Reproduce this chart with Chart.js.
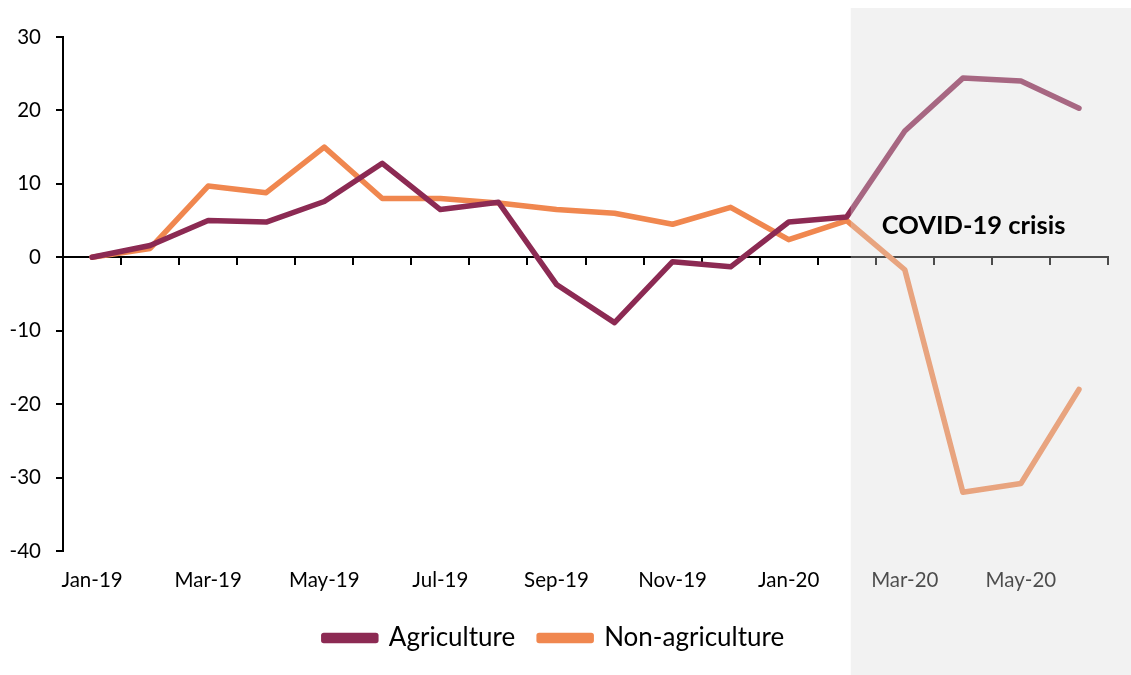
<!DOCTYPE html>
<html>
<head>
<meta charset="utf-8">
<script src="https://cdn.jsdelivr.net/npm/chart.js@4.4.0/dist/chart.umd.min.js"></script>
<style>
  html, body { margin: 0; padding: 0; background: #ffffff; }
  #wrap { width: 1131px; height: 675px; position: relative; }
</style>
</head>
<body>
<div id="wrap"><canvas id="chart" width="1131" height="675"></canvas></div>
<script>
// Chart data
const months = ['Jan-19', 'Feb-19', 'Mar-19', 'Apr-19', 'May-19', 'Jun-19', 'Jul-19', 'Aug-19', 'Sep-19',
    'Oct-19', 'Nov-19', 'Dec-19', 'Jan-20', 'Feb-20', 'Mar-20', 'Apr-20', 'May-20', 'Jun-20'];
const agriculture = [0, 1.6, 5.0, 4.8, 7.6, 12.8, 6.5, 7.5, -3.7, -8.9, -0.6, -1.3, 4.8, 5.5, 17.2, 24.4, 24.0, 20.3];
const nonAgriculture = [0, 1.2, 9.7, 8.8, 15.0, 8.0, 8.0, 7.4, 6.5, 6.0, 4.5, 6.8, 2.4, 5.0, -1.7, -32.0, -30.8, -18.0];
const yTicks = [-40, -30, -20, -10, 0, 10, 20, 30];
const crisisStart = 'Feb-20';
const crisisLabel = 'COVID-19 crisis';

const colors = {
    agri: '#8C2A53',
    nonAgri: '#F0874F',
    text: '#000000'
};

const baseFont = "Lato, 'Liberation Sans', sans-serif";

// Grey overlay for the crisis period, plus its label
const crisisShade = {
    id: 'crisisShade',
    afterDraw(chart) {
        const { ctx, chartArea, scales } = chart;
        const x = scales.x.getPixelForValue(months.indexOf(crisisStart)) + 4;
        ctx.save();
        ctx.fillStyle = 'rgba(217, 217, 217, 0.35)';
        ctx.fillRect(x, chartArea.top - 29, chart.width - x, chart.height - chartArea.top + 29);
        ctx.fillStyle = colors.text;
        ctx.font = "bold 25.5px " + baseFont;
        ctx.textBaseline = 'middle';
        ctx.fillText(crisisLabel, scales.x.getPixelForValue(months.indexOf(crisisStart)) + 35, scales.y.getPixelForValue(4.3));
        ctx.restore();
    }
};

new Chart(document.getElementById('chart'), {
    type: 'line',
    data: {
        labels: months,
        datasets: [
            {
                label: 'Agriculture',
                data: agriculture,
                borderColor: colors.agri,
                backgroundColor: colors.agri,
                borderWidth: 5.5,
                pointRadius: 0,
                tension: 0,
                borderCapStyle: 'round',
                borderJoinStyle: 'round'
            },
            {
                label: 'Non-agriculture',
                data: nonAgriculture,
                borderColor: colors.nonAgri,
                backgroundColor: colors.nonAgri,
                borderWidth: 5.5,
                pointRadius: 0,
                tension: 0,
                borderCapStyle: 'round',
                borderJoinStyle: 'round'
            }
        ]
    },
    options: {
        responsive: false,
        animation: false,
        layout: { padding: { top: 37, right: 23, left: 0, bottom: 14 } },
        plugins: {
            legend: {
                position: 'bottom',
                labels: {
                    color: colors.text,
                    font: { family: baseFont, size: 26 },
                    boxWidth: 52,
                    boxHeight: 5,
                    padding: 24
                }
            },
            tooltip: { enabled: false }
        },
        scales: {
            x: {
                type: 'category',
                position: { y: 0 },
                offset: true,
                grid: { offset: true, drawOnChartArea: false, drawTicks: true, tickLength: 7, color: '#000', lineWidth: 2 },
                border: { display: true, color: '#000', width: 2 },
                ticks: { display: false }
            },
            xLabels: {
                type: 'category',
                labels: months,
                position: 'bottom',
                offset: true,
                grid: { display: false, drawTicks: false },
                border: { display: false },
                ticks: {
                    color: colors.text,
                    font: { family: baseFont, size: 20.5 },
                    autoSkip: false,
                    maxRotation: 0,
                    padding: 17,
                    callback: function (val, i) { return i % 2 === 0 ? months[i] : ''; }
                },
                afterFit(scale) { scale.height = 50; }
            },
            y: {
                min: -40,
                max: 30,
                afterBuildTicks(scale) { scale.ticks = yTicks.map(v => ({ value: v })); },
                grid: { drawOnChartArea: false, drawTicks: true, tickLength: 7, color: '#000', lineWidth: 2 },
                border: { display: true, color: '#000', width: 2 },
                ticks: {
                    color: colors.text,
                    font: { family: baseFont, size: 20.5 },
                    padding: 15
                },
                afterFit(scale) { scale.width = 63; }
            }
        }
    },
    plugins: [crisisShade]
});
</script>
</body>
</html>
